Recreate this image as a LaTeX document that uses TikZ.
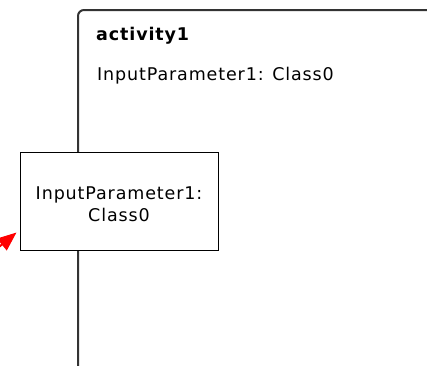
\documentclass[tikz,border=0pt]{standalone}
\usepackage{fontspec}
\newfontfamily\diafont[LetterSpace=5]{DejaVu Sans}
\usetikzlibrary{arrows.meta,calc}
\definecolor{framegray}{HTML}{333333}
\begin{document}
\begin{tikzpicture}[x=1pt,y=-1pt,
  every node/.style={font=\diafont\fontsize{17.5}{22}\selectfont, inner sep=0pt},
  frameline/.style={draw=framegray, line width=2pt, rounded corners=6pt},
  parambox/.style={draw=black, line width=1pt, fill=white, minimum width=198pt, minimum height=98pt},
  flowarrow/.style={draw=red, line width=2pt, -{Triangle[length=19pt,width=15pt]}}
]
\clip (0,0) rectangle (427,365);
\fill[white] (0,0) rectangle (427,365);
% activity frame
\draw[frameline] (78,390) |- (460,10);
\node[anchor=base west] (title) at (96,40) {\bfseries activity1};
\node[anchor=base west] (param) at (97,80) {InputParameter1: Class0};
% parameter node
\node[parambox] (box) at (119,201) {};
\node[align=center] (boxlbl) at (119,204.6) {InputParameter1:\\Class0};
% incoming arrow
\coordinate (src) at (-23,265);
\draw[flowarrow] (src) -- ($(box.south west)+(-3,-18)$);
\end{tikzpicture}
\end{document}
